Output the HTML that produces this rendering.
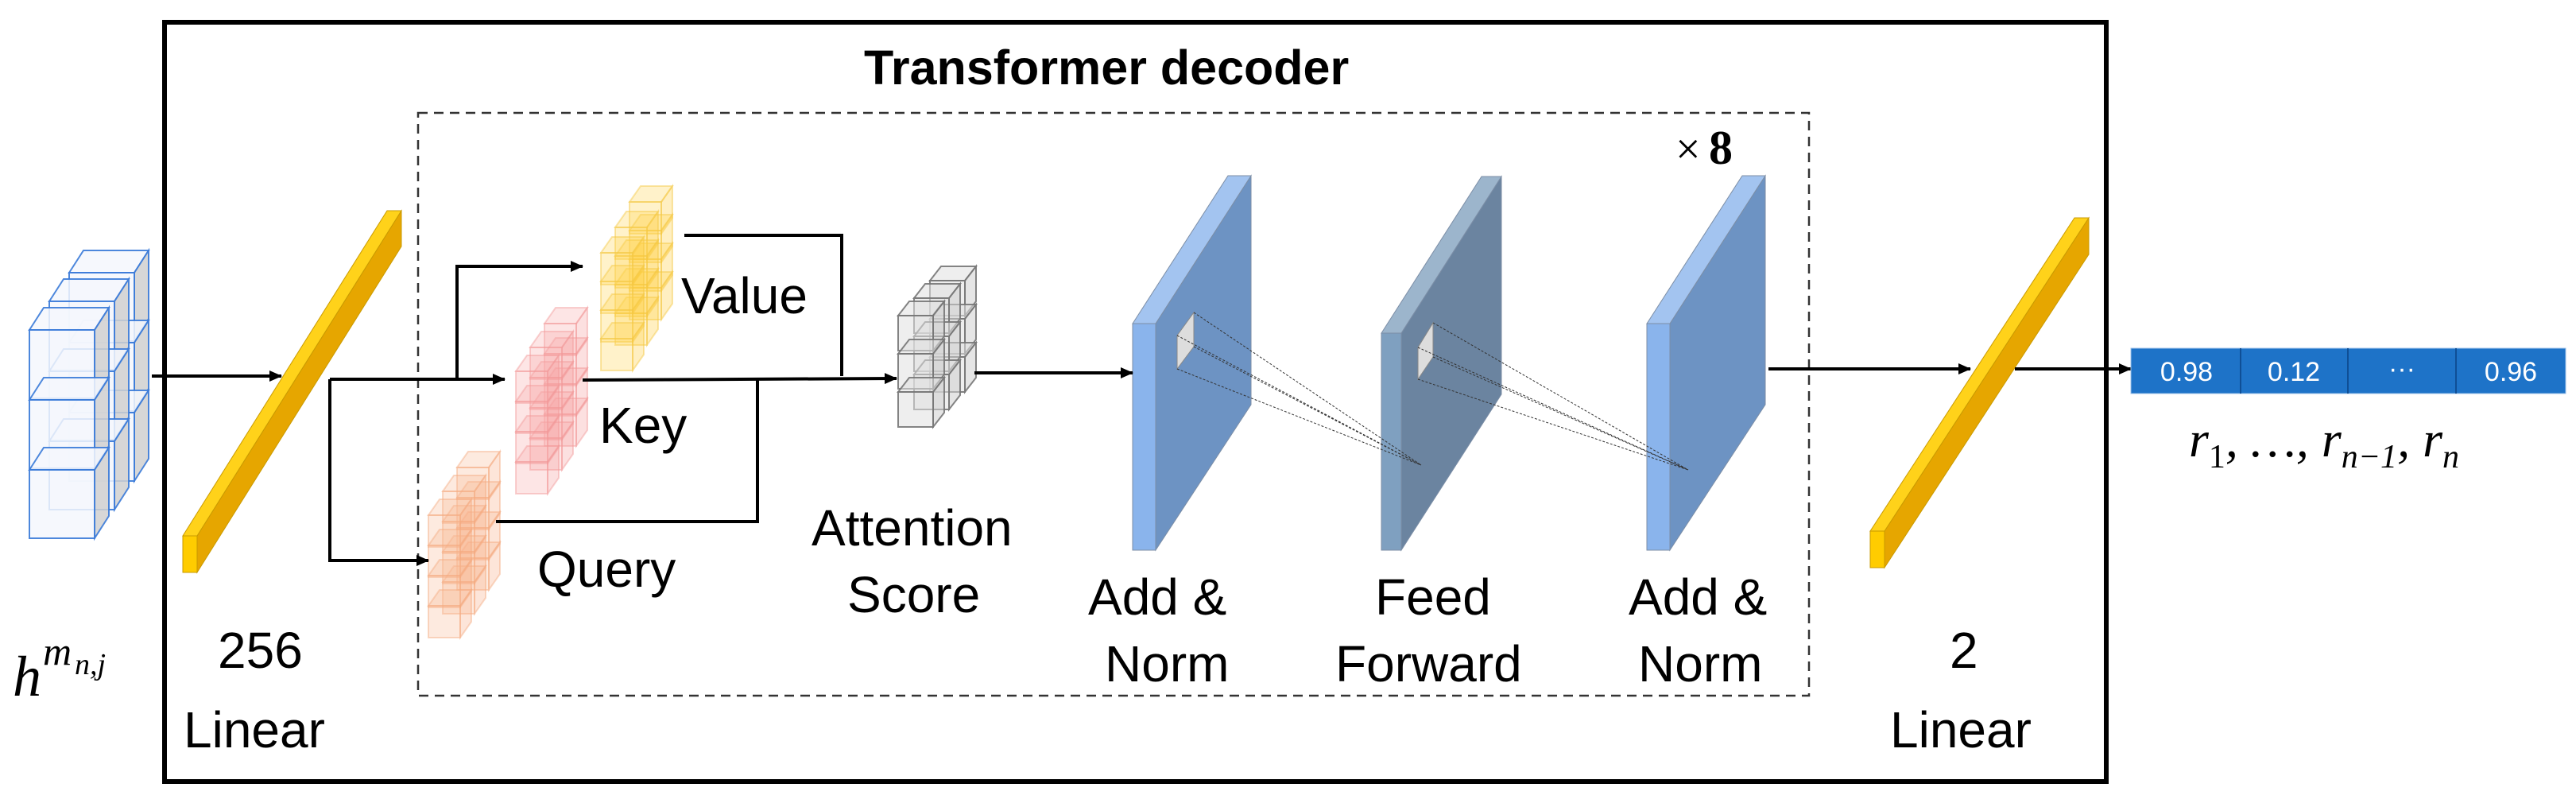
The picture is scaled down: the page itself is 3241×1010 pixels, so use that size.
<!DOCTYPE html>
<html><head><meta charset="utf-8"><style>
html,body{margin:0;padding:0;background:#fff}
svg{display:block}
.t{font-family:"Liberation Sans",Arial,sans-serif;font-size:64px;fill:#000}
.m{font-family:"Liberation Serif","DejaVu Serif",serif;font-style:italic;fill:#000}
</style></head><body>
<svg id="s" width="3241" height="1010" viewBox="0 0 3241 1010" xmlns="http://www.w3.org/2000/svg">
<defs>
<marker id="b" markerWidth="16" markerHeight="14" refX="15" refY="7" orient="auto" markerUnits="userSpaceOnUse"><path d="M0,0 L16,7 L0,14 z" fill="#000"/></marker>
</defs>
<rect x="0" y="0" width="3241" height="1010" fill="#fff"/>
<rect x="207" y="28" width="2443" height="955" fill="none" stroke="#000" stroke-width="6"/>
<rect x="526" y="142" width="1750" height="733" fill="none" stroke="#333" stroke-width="2.5" stroke-dasharray="12,8"/>
<text x="1087" y="106" style="font-family:'Liberation Sans',Arial,sans-serif;font-weight:bold;font-size:61px">Transformer decoder</text>
<text x="2108" y="206" style="font-family:'Liberation Serif',serif;font-size:56px">×</text>
<text x="2150" y="206" style="font-family:'Liberation Serif',serif;font-weight:bold;font-size:60px">8</text>

<g id="cubes"></g>

<g>
<rect x="230" y="674" width="18" height="46" fill="#FFCC00" stroke="#C99A00" stroke-width="1"/>
<polygon points="248,674 248,720 505,310 505,265" fill="#E6A600" stroke="#C99A00" stroke-width="1"/>
<polygon points="230,674 487,265 505,265 248,674" fill="#FFD21A" stroke="#C99A00" stroke-width="1"/>
</g>
<g>
<rect x="2353" y="668" width="18" height="46" fill="#FFCC00" stroke="#C99A00" stroke-width="1"/>
<polygon points="2371,668 2371,714 2628,320 2628,274" fill="#E6A600" stroke="#C99A00" stroke-width="1"/>
<polygon points="2353,668 2610,274 2628,274 2371,668" fill="#FFD21A" stroke="#C99A00" stroke-width="1"/>
</g>

<g stroke="#7c8ea6" stroke-width="1">
<polygon points="1454,407 1574,221 1574,509 1454,692" fill="#6D93C3"/>
<polygon points="1425,407 1545,221 1574,221 1454,407" fill="#A3C4F0"/>
<rect x="1425" y="407" width="29" height="285" fill="#8AB4EC"/>
<polygon points="1763,419 1889,222 1889,496 1763,692" fill="#6B84A0"/>
<polygon points="1738,419 1864,222 1889,222 1763,419" fill="#9CB5CC"/>
<rect x="1738" y="419" width="25" height="273" fill="#7FA0C0"/>
<polygon points="2101,407 2221,221 2221,509 2101,692" fill="#6D93C3"/>
<polygon points="2072,407 2192,221 2221,221 2101,407" fill="#A3C4F0"/>
<rect x="2072" y="407" width="29" height="285" fill="#8AB4EC"/>
</g>
<polygon points="1481,422 1502,393 1502,436 1481,464" fill="#ddd" stroke="#888"/>
<polygon points="1784,437 1803,406 1803,449 1784,477" fill="#ddd" stroke="#888"/>
<g stroke="#333" stroke-width="1" stroke-dasharray="3,2" fill="none">
<path d="M1502,393 L1788,585 M1502,436 L1788,585 M1481,464 L1788,585 M1481,422 L1788,585"/>
<path d="M1803,406 L2124,591 M1803,449 L2124,591 M1784,477 L2124,591 M1784,437 L2124,591"/>
</g>

<g stroke="#000" stroke-width="4" fill="none">
<line x1="191" y1="473" x2="354" y2="473" marker-end="url(#b)"/>
<polyline points="415,477 635,477" marker-end="url(#b)"/>
<polyline points="415,477 415,705 539,705" marker-end="url(#b)"/>
<polyline points="575,477 575,335 733,335" marker-end="url(#b)"/>
<polyline points="861,296 1059,296 1059,473"/>
<polyline points="733,478 1128,476" marker-end="url(#b)"/>
<polyline points="624,656 953,656 953,477"/>
<line x1="1226" y1="469" x2="1425" y2="469" marker-end="url(#b)"/>
<line x1="2225" y1="464" x2="2479" y2="464" marker-end="url(#b)"/>
<line x1="2535" y1="464" x2="2681" y2="464" marker-end="url(#b)"/>
</g>

<rect x="2681" y="438" width="547" height="57" fill="#1E73C8" stroke="#9cc0e8" stroke-width="1"/>
<g stroke="#0f4f96" stroke-width="2"><line x1="2819" y1="438" x2="2819" y2="495"/><line x1="2954" y1="438" x2="2954" y2="495"/><line x1="3090" y1="438" x2="3090" y2="495"/></g>
<g style="font-family:'Liberation Sans',Arial,sans-serif;font-size:34px;fill:#fff" text-anchor="middle">
<text x="2751" y="479">0.98</text><text x="2886" y="479">0.12</text><text x="3022" y="475">···</text><text x="3159" y="479">0.96</text>
</g>

<text class="t" x="857" y="394">Value</text>
<text class="t" x="754" y="557">Key</text>
<text class="t" x="676" y="738">Query</text>
<text class="t" x="1021" y="686">Attention</text>
<text class="t" x="1066" y="770">Score</text>
<text class="t" x="1369" y="773">Add &amp;</text>
<text class="t" x="1390" y="857">Norm</text>
<text class="t" x="1730" y="773">Feed</text>
<text class="t" x="1680" y="857">Forward</text>
<text class="t" x="2049" y="773">Add &amp;</text>
<text class="t" x="2061" y="857">Norm</text>
<text class="t" x="274" y="840">256</text>
<text class="t" x="231" y="940">Linear</text>
<text class="t" x="2453" y="840">2</text>
<text class="t" x="2378" y="940">Linear</text>
<text class="m" x="16" y="875" font-size="72">h</text>
<text class="m" x="54" y="836" font-size="50">m</text>
<text class="m" x="94" y="848" font-size="38">n,j</text>
<text class="m" x="2754" y="574" font-size="64">r<tspan font-size="42" dy="14" font-style="normal">1</tspan><tspan dy="-14">, …, r</tspan><tspan font-size="42" dy="14">n−1</tspan><tspan dy="-14">,  r</tspan><tspan font-size="42" dy="14">n</tspan></text>
</svg>
<script>
var g=document.getElementById('cubes'),NS='http://www.w3.org/2000/svg';
function P(pts,f,st,op,so){var p=document.createElementNS(NS,'polygon');p.setAttribute('points',pts);p.setAttribute('fill',f);p.setAttribute('stroke',st);p.setAttribute('stroke-width','2');p.setAttribute('fill-opacity',op);p.setAttribute('stroke-opacity',so);g.appendChild(p);}
function cube(x,y,w,h,dx,dy,front,side,st,op,so){
 P(x+','+y+' '+(x+dx)+','+(y-dy)+' '+(x+w+dx)+','+(y-dy)+' '+(x+w)+','+y,front,st,op,so);
 P((x+w)+','+y+' '+(x+w+dx)+','+(y-dy)+' '+(x+w+dx)+','+(y+h-dy)+' '+(x+w)+','+(y+h),side,st,op,so);
 P(x+','+y+' '+(x+w)+','+y+' '+(x+w)+','+(y+h)+' '+x+','+(y+h),front,st,op,so);
}
function stack(x0,y0,w,h,dx,dy,rows,step,layers,lx,ly,front,side,st,op,so){
 for(var l=layers-1;l>=0;l--)for(var r=0;r<rows;r++)cube(x0+l*lx,y0+r*step-l*ly,w,h,dx,dy,front,side,st,op,so);
}
stack(37,415,82,86,18,28,3,88,3,25,36,'#f4f7fd','#d0d0d0','#3a7ad8',0.85,0.9);
stack(756,318,40,40,14,20,4,36,3,18,32,'#FFD54F','#FFC933','#F5C842',0.3,0.45);
stack(649,467,40,40,14,20,4,38,3,18,30,'#F7A8A8','#F49898','#F29A9A',0.3,0.45);
stack(539,648,40,40,14,20,4,38,3,18,30,'#FABB95','#F8AA80','#F5AA80',0.3,0.45);
stack(1130,397,44,44,14,18,3,48,3,20,22,'#e0e0e0','#cfcfcf','#777',0.55,0.9);
</script>
</body></html>
